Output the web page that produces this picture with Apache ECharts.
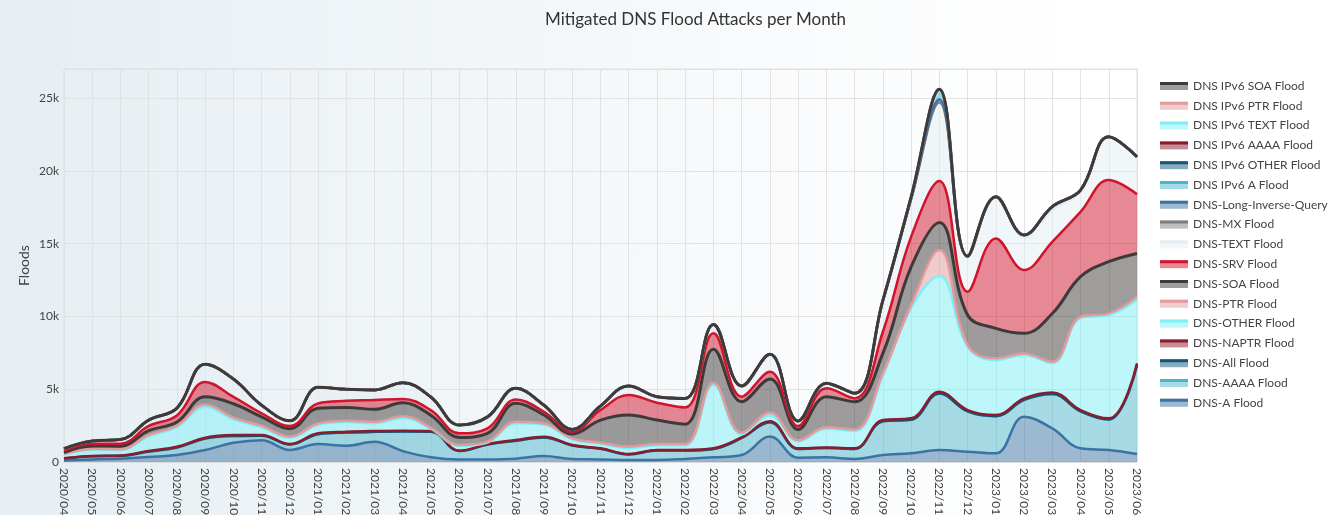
<!DOCTYPE html>
<html>
<head>
<meta charset="utf-8">
<script src="https://cdn.jsdelivr.net/npm/echarts@6/dist/echarts.min.js"></script>
<style>
  html, body { margin: 0; padding: 0; }
  body { background: linear-gradient(to right, #e6eef3 0%, #f5f8fa 45%, #ffffff 80%); }
  #chart { width: 1342px; height: 515px; }
</style>
</head>
<body>
<div id="chart"></div>
<script>
const months = [
  '2020/04', '2020/05', '2020/06', '2020/07', '2020/08', '2020/09', '2020/10', '2020/11', '2020/12',
  '2021/01', '2021/02', '2021/03', '2021/04', '2021/05', '2021/06', '2021/07', '2021/08', '2021/09', '2021/10', '2021/11', '2021/12',
  '2022/01', '2022/02', '2022/03', '2022/04', '2022/05', '2022/06', '2022/07', '2022/08', '2022/09', '2022/10', '2022/11', '2022/12',
  '2023/01', '2023/02', '2023/03', '2023/04', '2023/05', '2023/06'
];

// stacked from the bottom up
const dnsA      = [100, 180, 230, 350, 480, 820, 1320, 1500, 830, 1230, 1120, 1390, 750, 330, 180, 180, 230, 410, 200, 180, 140, 140, 210, 320, 480, 1750, 300, 320, 210, 480, 600, 820, 710, 600, 3110, 2310, 940, 820, 550];
const dnsAAAA   = [140, 210, 190, 370, 520, 790, 465, 305, 370, 680, 900, 680, 1340, 1750, 570, 1020, 1230, 1280, 930, 730, 380, 650, 580, 580, 1170, 970, 600, 640, 690, 2320, 2300, 3880, 2770, 2550, 1150, 2350, 2540, 2100, 6090];
const dnsAll    = [0, 0, 0, 0, 0, 0, 5, 5, 0, 0, 0, 0, 0, 0, 0, 0, 0, 0, 0, 0, 0, 0, 0, 0, 0, 10, 0, 0, 0, 0, 0, 10, 0, 0, 10, 10, 0, 0, 10];
const dnsNAPTR  = [20, 30, 30, 40, 50, 60, 60, 50, 40, 60, 60, 60, 60, 50, 30, 40, 50, 50, 40, 30, 30, 30, 30, 40, 50, 70, 40, 40, 40, 80, 100, 120, 90, 80, 100, 110, 90, 80, 130];
const dnsOTHER  = [260, 420, 370, 1010, 1350, 2130, 1080, 520, 420, 580, 660, 540, 880, 140, 330, 100, 1160, 830, 390, 310, 400, 320, 320, 4360, 210, 400, 480, 1280, 1200, 3060, 7580, 7950, 4370, 3770, 2980, 2010, 6310, 7100, 4350];
const dnsPTR    = [40, 60, 60, 80, 100, 150, 120, 100, 80, 100, 100, 100, 120, 80, 60, 60, 100, 80, 60, 80, 100, 100, 100, 150, 100, 200, 80, 100, 100, 150, 200, 1780, 100, 120, 110, 100, 100, 110, 220];
const dnsSOA    = [90, 200, 210, 300, 250, 530, 950, 620, 540, 1050, 910, 850, 920, 850, 520, 570, 1260, 580, 300, 1550, 2180, 1640, 1360, 2290, 2130, 2300, 740, 2110, 1900, 1370, 2620, 1900, 2060, 2060, 1380, 3310, 2750, 3550, 2980];
const dnsSRV    = [130, 150, 170, 330, 450, 1020, 480, 250, 190, 330, 450, 640, 260, 350, 280, 340, 270, 220, 160, 690, 1370, 1190, 1150, 1100, 350, 500, 230, 570, 230, 1490, 2070, 2840, 1600, 6180, 4350, 4930, 4460, 5610, 4070];
const dnsTEXT   = [140, 200, 280, 400, 500, 1220, 1220, 550, 360, 1100, 800, 690, 1120, 900, 570, 790, 760, 450, 160, 280, 620, 420, 620, 610, 730, 1200, 350, 340, 350, 2150, 2580, 5400, 2400, 2840, 2260, 2170, 1390, 2970, 2570];
const dnsMX     = [0, 0, 0, 0, 0, 0, 0, 0, 0, 0, 0, 0, 0, 0, 0, 0, 0, 0, 0, 0, 0, 0, 0, 0, 0, 0, 0, 0, 0, 0, 0, 0, 0, 30, 150, 250, 100, 0, 0];
const dnsLongInv = [0, 0, 0, 0, 0, 0, 0, 0, 0, 0, 0, 0, 0, 0, 0, 0, 0, 0, 0, 0, 0, 0, 0, 0, 0, 0, 0, 0, 0, 0, 50, 200, 20, 0, 0, 0, 0, 0, 0];
const v6A       = [0, 0, 0, 0, 0, 0, 0, 0, 0, 0, 0, 0, 0, 0, 0, 0, 0, 0, 0, 0, 0, 0, 0, 0, 0, 0, 0, 0, 0, 0, 100, 700, 30, 0, 0, 0, 0, 0, 0];
const v6OTHER   = [0, 0, 0, 0, 0, 0, 0, 0, 0, 0, 0, 0, 0, 0, 0, 0, 0, 0, 0, 0, 0, 0, 0, 0, 0, 0, 0, 0, 0, 0, 0, 0, 0, 0, 0, 0, 0, 0, 0];
const v6AAAA    = [0, 0, 0, 0, 0, 0, 0, 0, 0, 0, 0, 0, 0, 0, 0, 0, 0, 0, 0, 0, 0, 0, 0, 0, 0, 0, 0, 10, 0, 0, 0, 10, 0, 0, 0, 0, 0, 0, 0];
const v6TEXT    = [0, 0, 0, 0, 0, 0, 0, 0, 0, 0, 0, 0, 0, 0, 0, 0, 0, 0, 0, 0, 0, 0, 0, 0, 0, 0, 0, 0, 0, 0, 0, 0, 0, 0, 0, 0, 0, 0, 0];
const v6PTR     = [0, 0, 0, 0, 0, 0, 0, 0, 0, 0, 0, 0, 0, 0, 0, 0, 0, 0, 0, 0, 0, 0, 0, 0, 0, 0, 0, 0, 0, 0, 0, 0, 0, 0, 0, 0, 0, 0, 0];
const v6SOA     = [0, 0, 0, 0, 0, 0, 0, 0, 0, 0, 0, 0, 0, 0, 0, 0, 0, 0, 0, 0, 0, 0, 0, 0, 0, 0, 0, 0, 0, 0, 0, 0, 0, 0, 0, 0, 0, 0, 0];

const seriesDefs = [
  ['DNS-A Flood', dnsA, '#3b74a3'],
  ['DNS-AAAA Flood', dnsAAAA, '#4db5ca'],
  ['DNS-All Flood', dnsAll, '#11597a'],
  ['DNS-NAPTR Flood', dnsNAPTR, '#8c1b2d'],
  ['DNS-OTHER Flood', dnsOTHER, '#7eeff6'],
  ['DNS-PTR Flood', dnsPTR, '#e39a9c'],
  ['DNS-SOA Flood', dnsSOA, '#3f3a3a'],
  ['DNS-SRV Flood', dnsSRV, '#d0142c'],
  ['DNS-TEXT Flood', dnsTEXT, '#e4edf3'],
  ['DNS-MX Flood', dnsMX, '#7d7d7d'],
  ['DNS-Long-Inverse-Query', dnsLongInv, '#3b74a3'],
  ['DNS IPv6 A Flood', v6A, '#4db5ca'],
  ['DNS IPv6 OTHER Flood', v6OTHER, '#11597a'],
  ['DNS IPv6 AAAA Flood', v6AAAA, '#8c1b2d'],
  ['DNS IPv6 TEXT Flood', v6TEXT, '#7eeff6'],
  ['DNS IPv6 PTR Flood', v6PTR, '#e39a9c'],
  ['DNS IPv6 SOA Flood', v6SOA, '#3f3a3a'],
];

function rgba(hex, a) {
  const n = parseInt(hex.slice(1), 16);
  return 'rgba(' + (n >> 16) + ',' + ((n >> 8) & 255) + ',' + (n & 255) + ',' + a + ')';
}

const font = 'Lato';
const legendOrder = seriesDefs.slice().reverse();

const legendBase = {
  orient: 'vertical',
  left: 1155,
  top: 75,
  itemWidth: 28,
  itemHeight: 8,
  itemGap: 7.8,
  itemStyle: { borderWidth: 0 },
  textStyle: { fontFamily: font, fontSize: 12, color: '#444' },
};

const chart = echarts.init(document.getElementById('chart'));
chart.setOption({
  backgroundColor: 'transparent',
  animation: false,
  title: {
    text: 'Mitigated DNS Flood Attacks per Month',
    left: 540,
    top: 6,
    textStyle: { fontFamily: font, fontSize: 17, fontWeight: 'normal', color: '#333' },
  },
  tooltip: { trigger: 'axis' },
  legend: [
    // area colour box
    Object.assign({}, legendBase, {
      icon: 'rect',
      data: legendOrder.map((d) => ({ name: d[0], itemStyle: { color: rgba(d[2], 0.5) } })),
    }),
    // line colour strip on top, text hidden
    Object.assign({}, legendBase, {
      z: 5,
      icon: 'path://M0,0H28V3H0Z M0,8H28',
      textStyle: { fontFamily: font, fontSize: 12, color: 'rgba(0,0,0,0)' },
      data: legendOrder.map((d) => ({ name: d[0], itemStyle: { color: d[2] } })),
    }),
  ],
  grid: {
    left: 64,
    right: 205,
    top: 69,
    bottom: 53,
    show: true,
    borderColor: '#dcdcdc',
    backgroundColor: 'transparent',
    outerBoundsMode: 'none',
  },
  xAxis: {
    type: 'category',
    data: months,
    boundaryGap: false,
    axisTick: { show: false },
    axisLine: { lineStyle: { color: '#dcdcdc' } },
    axisLabel: { rotate: -90, interval: 0, margin: 6, fontFamily: font, fontSize: 12, color: '#444' },
    splitLine: { show: true, interval: 0, lineStyle: { color: '#e2e2e2' } },
  },
  yAxis: {
    type: 'value',
    min: 0,
    max: 27000,
    interval: 5000,
    name: 'Floods',
    nameLocation: 'middle',
    nameGap: 33,
    nameMoveOverlap: false,
    nameTextStyle: { fontFamily: font, fontSize: 14, color: '#444' },
    axisLine: { show: false },
    axisTick: { show: false },
    axisLabel: {
      margin: 5,
      fontFamily: font,
      fontSize: 12,
      color: '#444',
      formatter: (v) => (v === 0 ? '0' : v % 5000 === 0 ? v / 1000 + 'k' : ''),
    },
    splitLine: { lineStyle: { color: '#e2e2e2' } },
  },
  series: seriesDefs.map((d) => ({
    name: d[0],
    type: 'line',
    stack: 'total',
    smooth: 0.4,
    showSymbol: false,
    data: d[1],
    color: d[2],
    lineStyle: { color: d[2], width: d[2] === '#3f3a3a' ? 3 : 2.5 },
    areaStyle: { color: d[2], opacity: 0.5 },
    emphasis: { disabled: true },
  })),
});
</script>
</body>
</html>
